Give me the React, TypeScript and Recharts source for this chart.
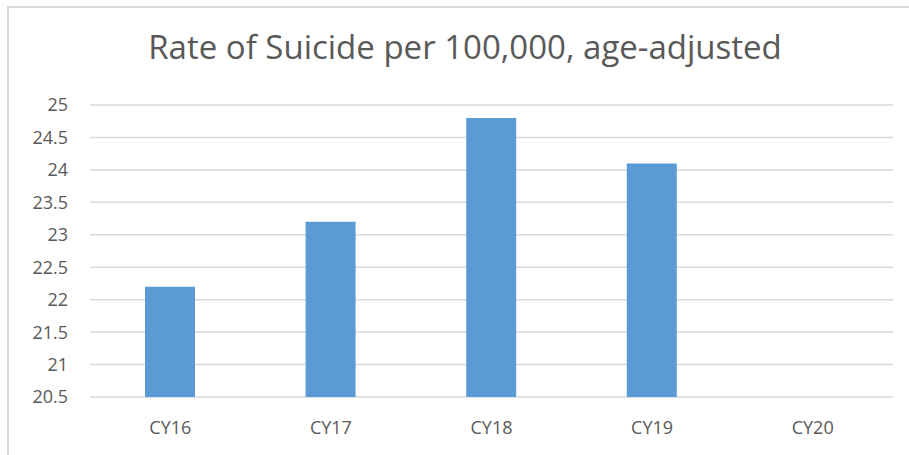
import React from 'react'
import { BarChart, Bar, XAxis, YAxis, CartesianGrid } from 'recharts'

const years = ['CY16', 'CY17', 'CY18', 'CY19', 'CY20']
const rates: (number | null)[] = [22.2, 23.2, 24.8, 24.1, null]
const yTicks = [20.5, 21, 21.5, 22, 22.5, 23, 23.5, 24, 24.5, 25]

const data = years.map((name, i) => ({ name, rate: rates[i] }))

const font = '"Open Sans", "Liberation Sans", sans-serif'

const App = () => {
	return (
		<div style={{ position: 'absolute', left: 0, top: 0, width: 909, height: 455, background: '#fff', overflow: 'hidden', fontFamily: font }}>
			<div style={{ position: 'absolute', left: 7, top: 6, right: -2, bottom: -2, borderTop: '2px solid #d9d9d9', borderLeft: '2px solid #d9d9d9' }} />
			<div style={{ position: 'absolute', left: 0, width: 930, top: 25, textAlign: 'center', fontSize: 33, lineHeight: '44px', color: '#595959' }}>
				Rate of Suicide per 100,000, age-adjusted
			</div>
			<div style={{ position: 'absolute', left: 0, top: 0 }}>
				<BarChart
					width={909}
					height={455}
					data={data}
					margin={{ top: 105, right: 16, left: 0, bottom: 0 }}>
					<CartesianGrid
						vertical={false}
						stroke='#d9d9d9'
						strokeWidth={1.5}
					/>
					<XAxis
						dataKey='name'
						axisLine={false}
						tickLine={false}
						tickSize={0}
						tickMargin={24}
						height={58}
						tick={{ fill: '#595959', fontSize: 18, fontFamily: font }}
					/>
					<YAxis
						type='number'
						domain={[20.5, 25]}
						ticks={yTicks}
						interval={0}
						axisLine={false}
						tickLine={false}
						tickSize={0}
						tickMargin={22}
						width={90}
						tick={{ fill: '#595959', fontSize: 18, fontFamily: font }}
					/>
					<Bar
						dataKey='rate'
						fill='#5b9bd5'
						barSize={50}
						isAnimationActive={false}
					/>
				</BarChart>
			</div>
		</div>
	)
}

export default App
